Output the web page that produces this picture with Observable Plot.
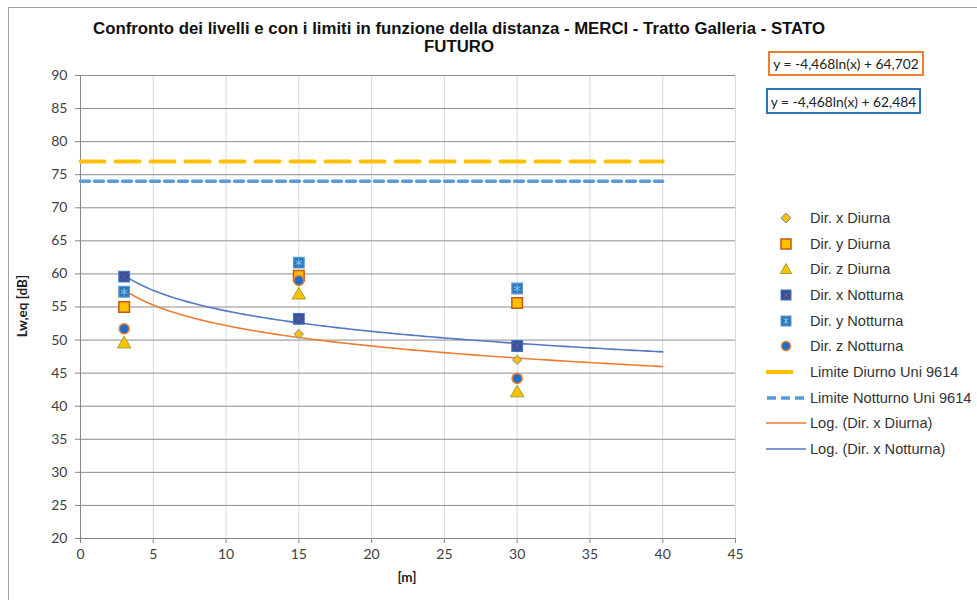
<!DOCTYPE html>
<html><head><meta charset="utf-8">
<script src="https://cdn.jsdelivr.net/npm/d3@7"></script>
<script src="https://cdn.jsdelivr.net/npm/@observablehq/plot@0.6"></script>
<style>
body{margin:0;background:#fff;}
#wrap{position:relative;width:977px;height:600px;overflow:hidden;font-family:"Liberation Sans",Arial,sans-serif;}
#chart{position:absolute;left:0;top:0;}
#frame{position:absolute;left:8px;top:7px;width:1100px;height:800px;border:1px solid #a0a0a0;pointer-events:none;}
#title{position:absolute;left:0;width:918px;top:20px;text-align:center;font-weight:bold;font-size:16.8px;line-height:18px;color:#111;}
.eq{position:absolute;box-sizing:border-box;font-family:Lato,"Open Sans",sans-serif;font-size:13.8px;color:#222;text-align:center;background:#fff;white-space:nowrap;display:flex;align-items:center;justify-content:center;}
#ylab{position:absolute;left:22px;top:306px;transform:translate(-50%,-50%) rotate(-90deg);font-family:Lato,sans-serif;font-weight:bold;font-size:13.5px;color:#222;white-space:nowrap;}
#xlab{position:absolute;left:407px;top:577px;transform:translate(-50%,-50%);font-family:Lato,sans-serif;font-weight:bold;font-size:13.5px;color:#222;}
.leg{position:absolute;left:766px;height:20px;display:flex;align-items:center;font-size:14.6px;color:#333;white-space:nowrap;}
.leg svg{width:44px;height:20px;flex:none;}
</style></head>
<body><div id="wrap">
<div id="chart"></div>
<div id="title">Confronto dei livelli e con i limiti in funzione della distanza - MERCI - Tratto Galleria - STATO<br>FUTURO</div>
<div id="ylab">Lw,eq [dB]</div>
<div id="xlab">[m]</div>
<div id="legend"></div>
<div id="eqs"></div>
<div id="frame"></div>
</div>
<script>
// ---- data ----
const distances = [3, 15, 30];
const dirXDiurna   = [57.3, 50.9, 47.0];
const dirYDiurna   = [55.0, 59.7, 55.6];
const dirZDiurna   = [49.4, 56.8, 42.0];
const dirXNotturna = [59.6, 53.2, 49.1];
const dirYNotturna = [57.3, 61.7, 57.8];
const dirZNotturna = [51.7, 59.0, 44.2];
const limitX = [0, 40];
const limitDiurno = 77;
const limitNotturno = 74;
const trendSlope = -4.468;
const trendInterceptDiurna = 62.484;
const trendInterceptNotturna = 64.702;
const trendX = [3, 40];
const xTicks = [0, 5, 10, 15, 20, 25, 30, 35, 40, 45];
const yTicks = [20, 25, 30, 35, 40, 45, 50, 55, 60, 65, 70, 75, 80, 85, 90];
const seriesNames = ["Dir. x Diurna","Dir. y Diurna","Dir. z Diurna","Dir. x Notturna","Dir. y Notturna","Dir. z Notturna","Limite Diurno Uni 9614","Limite Notturno Uni 9614","Log. (Dir. x Diurna)","Log. (Dir. x Notturna)"];
const equationTexts = ["y = -4,468ln(x) + 64,702", "y = -4,468ln(x) + 62,484"];

// ---- build tables ----
const pts = vals => distances.map((d, i) => ({x: d, y: vals[i]}));
const limitLine = v => limitX.map(x => ({x, y: v}));
const trend = b => {
  const out = [];
  for (let x = trendX[0]; x <= trendX[1] + 1e-9; x += 0.25) out.push({x, y: trendSlope * Math.log(x) + b});
  return out;
};

const C = {gold:"#FFC000", orange:"#ED7D31", blue:"#5479C4", dark:"#2F5597", mid:"#2E75B6", limBlue:"#5B9BD5"};

const plot = Plot.plot({
  width: 977, height: 600,
  marginLeft: 80, marginRight: 242, marginTop: 75, marginBottom: 62,
  x: {domain: [0, 45], label: null},
  y: {domain: [20, 90], label: null},
  style: {background: "transparent", fontFamily: "Lato, sans-serif", fontSize: "14px", color: "#404040"},
  marks: [
    Plot.ruleX(xTicks.slice(1), {stroke: "#d9d9d9", strokeWidth: 1}),
    Plot.ruleY(yTicks.slice(1), {stroke: "#8c8c8c", strokeWidth: 1}),
    Plot.ruleX([0], {stroke: "#868686"}),
    Plot.ruleY([20], {stroke: "#868686"}),
    Plot.axisX({ticks: xTicks, tickSize: 5, tickPadding: 6, stroke: "#868686", fill: "#404040", fontSize: 14, label: null}),
    Plot.axisY({ticks: yTicks, tickSize: 5, tickPadding: 8, stroke: "#868686", fill: "#404040", fontSize: 14, label: null}),
    Plot.line(limitLine(limitDiurno), {x: "x", y: "y", stroke: C.gold, strokeWidth: 4, strokeDasharray: "24,11"}),
    Plot.line(limitLine(limitNotturno), {x: "x", y: "y", stroke: C.limBlue, strokeWidth: 3.5, strokeDasharray: "9,5"}),
    Plot.line(trend(trendInterceptDiurna), {x: "x", y: "y", stroke: C.orange, strokeWidth: 1.6}),
    Plot.line(trend(trendInterceptNotturna), {x: "x", y: "y", stroke: C.blue, strokeWidth: 1.6}),
    Plot.dot(pts(dirXDiurna), {x: "x", y: "y", symbol: "diamond2", r: 4.2, fill: C.gold, stroke: "#6f8fc0", strokeWidth: 1}),
    Plot.dot(pts(dirYDiurna), {x: "x", y: "y", symbol: "square", r: 6, fill: C.gold, stroke: "#C55A11", strokeWidth: 1.5}),
    Plot.dot(pts(dirZDiurna), {x: "x", y: "y", symbol: "triangle", r: 5, fill: C.gold, stroke: "#9BA52C", strokeWidth: 1}),
    Plot.dot(pts(dirXNotturna), {x: "x", y: "y", symbol: "square", r: 6, fill: C.dark, stroke: "#4472C4", strokeWidth: 1.2}),
    Plot.dot(pts(dirXNotturna), {x: "x", y: "y", symbol: "times", r: 3.2, stroke: "#8b4fa0", strokeWidth: 1}),
    Plot.dot(pts(dirYNotturna), {x: "x", y: "y", symbol: "square", r: 6, fill: C.mid, stroke: C.limBlue, strokeWidth: 1.2}),
    Plot.dot(pts(dirYNotturna), {x: "x", y: "y", symbol: "asterisk", r: 3.6, stroke: "#7ecbf0", strokeWidth: 1}),
    Plot.dot(pts(dirZNotturna), {x: "x", y: "y", symbol: "circle", r: 5, fill: "#1F6FC8", stroke: C.orange, strokeWidth: 1.5})
  ]
});
document.getElementById("chart").appendChild(plot);

// ---- legend ----
const legendY = [218, 243.5, 269.3, 295, 320.5, 346, 372, 397.5, 423.3, 449.3];
const sym = [
  `<polygon points="20,5 25,10 20,15 15,10" fill="${C.gold}" stroke="#6f8fc0" stroke-width="1"/>`,
  `<rect x="15" y="5" width="10" height="10" fill="${C.gold}" stroke="#C55A11" stroke-width="1.5"/>`,
  `<polygon points="20,4.5 25.5,14.5 14.5,14.5" fill="${C.gold}" stroke="#9BA52C" stroke-width="1"/>`,
  `<rect x="15" y="5" width="10" height="10" fill="${C.dark}" stroke="#4472C4" stroke-width="1"/><path d="M17.5,7.5L22.5,12.5M22.5,7.5L17.5,12.5" stroke="#8b4fa0" stroke-width="1"/>`,
  `<rect x="15" y="5" width="10" height="10" fill="${C.mid}" stroke="${C.limBlue}" stroke-width="1"/><path d="M17.5,7.5L22.5,12.5M22.5,7.5L17.5,12.5M20,6.5V13.5" stroke="#7ecbf0" stroke-width="1"/>`,
  `<circle cx="20" cy="10" r="4.5" fill="#1F6FC8" stroke="${C.orange}" stroke-width="1.5"/>`,
  `<line x1="0" y1="10" x2="27" y2="10" stroke="${C.gold}" stroke-width="4"/>`,
  `<line x1="1" y1="10" x2="39" y2="10" stroke="${C.limBlue}" stroke-width="3.5" stroke-dasharray="9,5"/>`,
  `<line x1="0" y1="10" x2="40" y2="10" stroke="${C.orange}" stroke-width="1.6"/>`,
  `<line x1="0" y1="10" x2="40" y2="10" stroke="${C.blue}" stroke-width="1.6"/>`
];
const leg = document.getElementById("legend");
seriesNames.forEach((name, i) => {
  const d = document.createElement("div");
  d.className = "leg";
  d.style.top = (legendY[i] - 10) + "px";
  d.innerHTML = `<svg viewBox="0 0 44 20">${sym[i]}</svg><span>${name}</span>`;
  leg.appendChild(d);
});

// ---- equation boxes ----
const eqs = document.getElementById("eqs");
const eqBoxes = [
  {left: 768, top: 51, w: 156, h: 25, border: C.orange},
  {left: 766, top: 88, w: 155, h: 26, border: "#2E75B6"}
];
equationTexts.forEach((t, i) => {
  const b = eqBoxes[i];
  const d = document.createElement("div");
  d.className = "eq";
  Object.assign(d.style, {left: b.left + "px", top: b.top + "px", width: b.w + "px", height: b.h + "px", border: `2px solid ${b.border}`});
  d.textContent = t;
  eqs.appendChild(d);
});
</script>
</body></html>
